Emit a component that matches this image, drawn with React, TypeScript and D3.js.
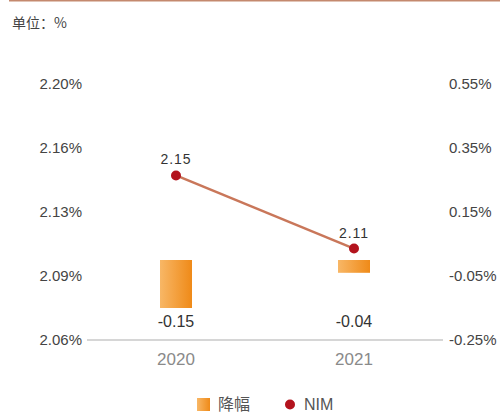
import React from "react";
import * as d3 from "d3";

const years = ["2020", "2021"];
const nim = [2.15, 2.11];
const decline = [-0.15, -0.04];
const leftTicks = [2.06, 2.095, 2.13, 2.165, 2.2];
const leftTickLabels = ["2.06%", "2.09%", "2.13%", "2.16%", "2.20%"];
const rightTicks = [-0.25, -0.05, 0.15, 0.35, 0.55];
const rightTickLabels = ["-0.25%", "-0.05%", "0.15%", "0.35%", "0.55%"];
const unitLabel = "单位：%";
const legendBar = "降幅";
const legendLine = "NIM";

const W = 500;
const H = 415;
const font = "'Liberation Sans', Arial, sans-serif";

export default function App() {
  const x = d3.scaleBand<string>().domain(years).range([87, 443]).padding(0);
  const yL = d3.scaleLinear().domain([2.06, 2.2]).range([340, 84]);
  const yR = d3.scaleLinear().domain([-0.25, 0.55]).range([340, 84]);
  const cx = (y: string) => (x(y) as number) + x.bandwidth() / 2;
  const barW = 32;
  const line = d3
    .line<number>()
    .x((_, i) => cx(years[i]))
    .y((d) => yL(d));

  return (
    <svg
      width={W}
      height={H}
      style={{ position: "absolute", left: 0, top: 0, background: "#fff" }}
    >
      <defs>
        <linearGradient id="barGrad" x1="0" x2="1" y1="0" y2="0">
          <stop offset="0%" stopColor="#f8b766" />
          <stop offset="100%" stopColor="#ef8a18" />
        </linearGradient>
      </defs>
      <line x1={9} x2={500} y1={0.75} y2={0.75} stroke="#c4896e" strokeWidth={1.5} />
      <text x={12} y={28} fontSize={14} fill="#444" fontFamily="'Noto Sans CJK SC', sans-serif">
        {unitLabel}
      </text>

      {leftTicks.map((t, i) => (
        <text
          key={"l" + i}
          x={82}
          y={yL(t) + 5}
          textAnchor="end"
          fontSize={15}
          fill="#444"
          fontFamily={font}
        >
          {leftTickLabels[i]}
        </text>
      ))}
      {rightTicks.map((t, i) => (
        <text
          key={"r" + i}
          x={449}
          y={yR(t) + 5}
          textAnchor="start"
          fontSize={15}
          fill="#444"
          fontFamily={font}
        >
          {rightTickLabels[i]}
        </text>
      ))}

      <line x1={87} x2={443} y1={yL(2.06)} y2={yL(2.06)} stroke="#c8c8c8" strokeWidth={1.5} />

      {years.map((yr, i) => (
        <g key={"b" + yr}>
          <rect
            x={cx(yr) - barW / 2}
            y={yR(0)}
            width={barW}
            height={yR(decline[i]) - yR(0)}
            fill="url(#barGrad)"
          />
          <text
            x={cx(yr)}
            y={327}
            textAnchor="middle"
            fontSize={16}
            fill="#333"
            fontFamily={font}
          >
            {decline[i].toFixed(2)}
          </text>
          <text
            x={cx(yr)}
            y={365}
            textAnchor="middle"
            fontSize={17}
            fill="#8a8a8a"
            fontFamily={font}
          >
            {yr}
          </text>
        </g>
      ))}

      <path d={line(nim) || ""} fill="none" stroke="#c9775a" strokeWidth={2.5} />
      {years.map((yr, i) => (
        <g key={"p" + yr}>
          <circle cx={cx(yr)} cy={yL(nim[i])} r={5} fill="#b3131d" />
          <text
            x={cx(yr)}
            y={yL(nim[i]) - 11}
            textAnchor="middle"
            fontSize={14}
            letterSpacing={1}
            fill="#333"
            fontFamily={font}
          >
            {nim[i].toFixed(2)}
          </text>
        </g>
      ))}

      <rect x={197} y={398} width={13} height={13} fill="url(#barGrad)" />
      <text x={218} y={410} fontSize={16} fill="#555" fontFamily="'Noto Sans CJK SC', sans-serif">
        {legendBar}
      </text>
      <circle cx={290} cy={404.5} r={5} fill="#b3131d" />
      <text x={304} y={410} fontSize={16} fill="#555" fontFamily={font}>
        {legendLine}
      </text>
    </svg>
  );
}
